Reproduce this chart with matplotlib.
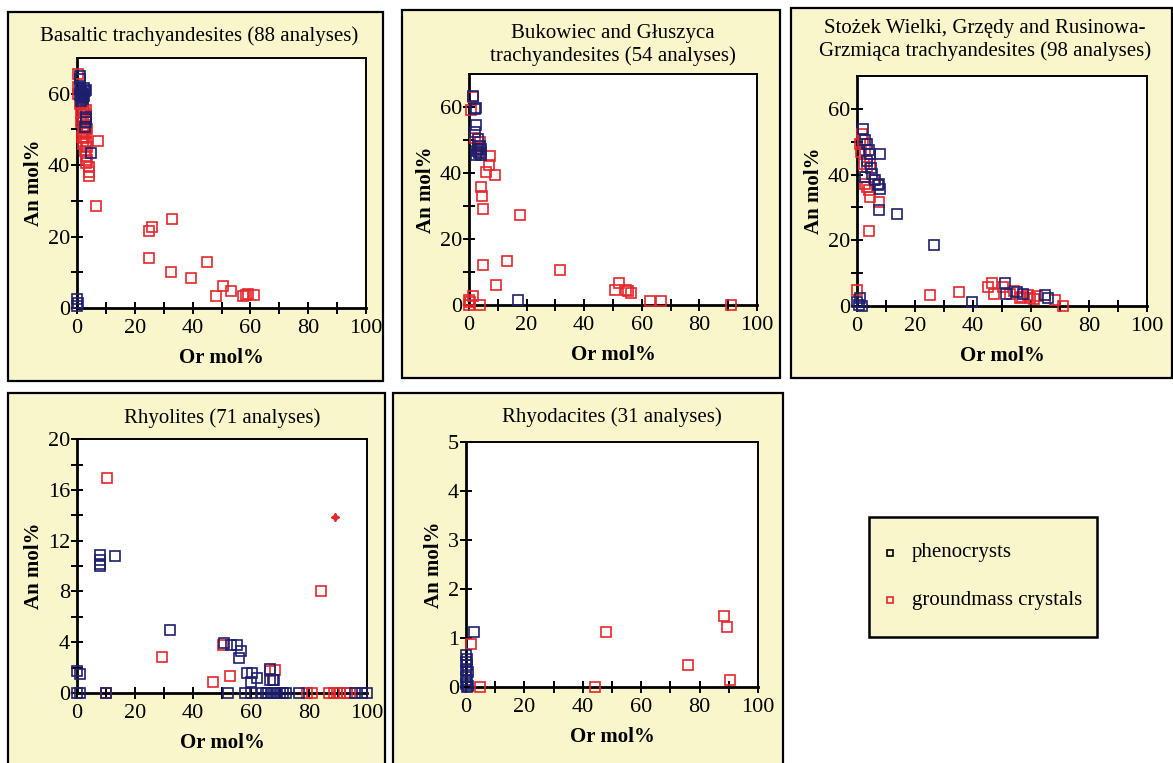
import numpy as np
import matplotlib
matplotlib.use("Agg")
import matplotlib.pyplot as plt
from matplotlib.patches import Rectangle

plt.rcParams['font.family'] = ['Liberation Serif', 'DejaVu Serif']

# Or / An (mol%) of feldspars, per rock group
bt_phen_or = [1, 1.2, 1, 1.5, 2, 2.5, 1.8, 2.2, 1.3, 2.8, 3, 1, 2.5, 1.6, 2.1,
              3, 3, 2.8, 3.2, 5, 0, 0, 0.3]
bt_phen_an = [65, 64, 61.5, 60.5, 60, 59.5, 59, 58.5, 58, 60.8, 61, 59.7, 61.5, 60.2, 59.2,
              53.5, 52, 50.8, 53, 43.3, 2.5, 0.5, 1.5]
bt_gm_or = [0.5, 0.3, 0.5, 1, 2, 3, 2.5, 1.5, 3, 2, 1.5, 2.5, 3.5, 2, 3, 1.8, 2.5, 3, 2,
            3.5, 2.8, 3, 3.5, 3.2, 4, 4, 4.2, 7.2, 6.7, 24.8, 26, 33, 24.9, 32.4, 39.6,
            44.9, 50.4, 53.4, 48.2, 57.4, 59, 61.1, 58.5]
bt_gm_an = [65.5, 62, 60, 57, 56, 55.5, 55, 54.5, 54, 53, 52, 51, 50, 49.5, 49, 48, 47.5,
            46.5, 46, 45, 44, 42.5, 41.5, 40.5, 39.5, 38.2, 37, 46.9, 28.5, 21.6, 22.6, 25,
            13.9, 10.2, 8.3, 12.9, 6.3, 4.9, 3.4, 3.4, 4, 3.7, 3.7]

bg_phen_or = [1.4, 2, 2.3, 2.5, 2, 3.1, 3.7, 2.8, 3.5, 4, 2.3, 3.1, 4.3, 17]
bg_phen_an = [63.3, 59.5, 59.7, 54.4, 52.4, 50.4, 48.3, 46.8, 46, 45.5, 45.5, 47.3, 47.3, 1.5]
bg_gm_or = [1.4, 0.8, 3.7, 4, 3, 2, 7.4, 6.9, 6, 9.1, 4, 4.6, 4.9, 17.6, 4.9, 13.2, 9.5,
            31.5, 50.6, 52, 54.6, 55.2, 56.2, 63, 66.8, 90.9, 0, 1.4, 0.5, 3.7, 0]
bg_gm_an = [63, 59, 49.3, 46, 48, 50.5, 45.1, 42.5, 40.4, 39.5, 35.8, 33, 29.2, 27.2, 12.2,
            13.4, 6.1, 10.5, 4.4, 6.8, 4.6, 4.1, 3.6, 1.3, 1.3, 0, 1.5, 2.7, 1, 0, 0]

sw_phen_or = [2.1, 2.9, 3.4, 4, 4.6, 8, 5.2, 6.3, 7.5, 7.8, 7.1, 7.5, 13.8, 26.6, 39.7,
              51, 51.4, 55, 57.3, 64.8, 65.9, 0, 0.6, 1.7, 1.1, 2.9, 3.6, 4.8]
sw_phen_an = [53.9, 50.4, 49.4, 47.4, 46.2, 46.2, 40.3, 38.3, 37.2, 35.7, 36.7, 29.1, 27.9,
              18.7, 1.3, 7.1, 3.8, 4.4, 3.8, 3.3, 2.3, 1.3, 0.3, 0, 2.3, 39.3, 44, 42]
sw_gm_or = [1.7, 1.1, 1.4, 2.3, 3.4, 4.6, 2.9, 4, 4.6, 7.5, 4.2, 5.7, 3.4, 2, 2.6, 0, 25,
            35, 45.3, 46.7, 47.2, 50.5, 52.8, 56.2, 59.6, 62, 68.2, 71.1, 59, 54, 57, 61]
sw_gm_an = [52.4, 49.4, 46.9, 43.3, 42.3, 43.1, 37.2, 35.2, 33.2, 31.7, 22.8, 38.3, 36.2,
            50.5, 47.5, 4.9, 3.5, 4.4, 5.9, 7.1, 3.8, 5.9, 3.8, 2.3, 2.5, 3, 1.8, 0, 3.3,
            4.6, 2.8, 2.2]

rh_phen_or = [0, 0.9, 0, 0.9, 8.1, 8.1, 8.1, 8.1, 13, 32, 50.8, 53, 55.3, 56.5, 56, 58.5,
              60.3, 60, 62.2, 66.6, 66.4, 68, 67.5, 52.2, 58, 60, 63.7, 65, 66, 67, 68,
              69, 70, 71, 72, 76.4, 96, 98.3, 100, 10.1]
rh_phen_an = [1.7, 1.5, 0, 0, 10.9, 10.5, 10.2, 10, 10.8, 5, 3.9, 3.75, 3.8, 3.3, 2.75,
              1.6, 1.6, 0.9, 1.2, 1.9, 1, 1, 1.05, 0, 0, 0, 0, 0, 0, 0, 0, 0, 0, 0, 0,
              0, 0, 0, 0, 0]
rh_gm_or = [10.4, 84.2, 29.4, 47, 52.8, 50.2, 68.3, 66.6, 10.1, 79.3, 81, 86.8, 88.5,
            89.6, 90.8, 93, 94.2]
rh_gm_an = [16.9, 8, 2.8, 0.9, 1.3, 3.75, 1.8, 1.7, 0, 0, 0, 0, 0, 0, 0, 0, 0]
rh_odd_or = [89]
rh_odd_an = [13.9]

rd_phen_or = [2.6, 0, 0.3, 0, 0.3, 0, 0.7, 0, 0.3, 0, 0.3, 0.7]
rd_phen_an = [1.12, 0.66, 0.58, 0.51, 0.44, 0.34, 0.31, 0.2, 0.14, 0.07, 0, 0.03]
rd_gm_or = [1.8, 4.9, 44.2, 47.9, 75.9, 88.4, 89.4, 90.5]
rd_gm_an = [0.88, 0, 0.01, 1.12, 0.44, 1.45, 1.22, 0.14]

W, H = 1173, 763
PALE = '#faf6cb'
BLUE = '#1d1f6e'
RED = '#e5262b'

fig = plt.figure(figsize=(W / 100, H / 100), dpi=100)
fig.patch.set_facecolor('white')


def px_box(l, t, r, b):
    return [l / W, 1 - b / H, (r - l) / W, (b - t) / H]


def panel_bg(l, t, r, b, lw=1.6):
    x, y, w, h = px_box(l, t, r, b)
    fig.patches.append(Rectangle((x, y), w, h, transform=fig.transFigure,
                                 facecolor=PALE, edgecolor='black', lw=lw, zorder=-10))


def panel(rect, ymax, ymajor, yminor, phen, gm):
    ax = fig.add_axes(px_box(*rect))
    ax.set_facecolor('white')
    ax.set_xlim(0, 100)
    ax.set_ylim(0, ymax)
    ax.set_xticks(np.arange(0, 101, 20))
    ax.set_xticks(np.arange(10, 100, 20), minor=True)
    ax.set_yticks(np.arange(0, ymax, ymajor))
    if yminor:
        ax.set_yticks(np.arange(yminor, ymax, ymajor), minor=True)
    ax.tick_params(which='both', direction='inout', length=8, width=1.4, labelsize=16,
                   top=False, right=False)
    ax.tick_params(axis='x', pad=4)
    ax.tick_params(axis='y', pad=1)
    for s in ['left', 'bottom']:
        ax.spines[s].set_linewidth(2)
    for s in ['top', 'right']:
        ax.spines[s].set_linewidth(1.4)
    ax.set_xlabel('Or mol%', fontsize=15, fontweight='bold', labelpad=7)
    ax.set_ylabel('An mol%', fontsize=15, fontweight='bold', labelpad=3)
    ax.plot(gm[0], gm[1], 's', ms=7, mfc='none', mec=RED, mew=1.2, clip_on=False, zorder=3)
    ax.plot(phen[0], phen[1], 's', ms=7, mfc='none', mec=BLUE, mew=1.2, clip_on=False, zorder=4)
    return ax


panel_bg(8, 12, 383, 381)
panel_bg(402, 10, 780, 378)
panel_bg(791, 8, 1172, 378)
panel_bg(8, 393, 385, 765)
panel_bg(393, 393, 783, 765)
panel_bg(869, 517, 1097, 637, lw=1.8)

panel((77, 58, 366, 308), 70, 20, 10, (bt_phen_or, bt_phen_an), (bt_gm_or, bt_gm_an))
panel((469, 74, 757, 305), 70, 20, 10, (bg_phen_or, bg_phen_an), (bg_gm_or, bg_gm_an))
panel((857, 76, 1147, 306), 70, 20, 10, (sw_phen_or, sw_phen_an), (sw_gm_or, sw_gm_an))
ax4 = panel((77, 439, 367, 693), 20.01, 4, 2, (rh_phen_or, rh_phen_an), (rh_gm_or, rh_gm_an))
ax4.plot(rh_odd_or, rh_odd_an, marker=(4, 1, 0), ms=6, color=RED, ls='none', zorder=5)
panel((466, 442, 758, 687), 5.001, 1, None, (rd_phen_or, rd_phen_an), (rd_gm_or, rd_gm_an))

tkw = dict(ha='center', va='center', fontsize=15)
fig.text(199 / W, 1 - 36 / H, 'Basaltic trachyandesites (88 analyses)', **tkw)
fig.text(613 / W, 1 - 45 / H, 'Bukowiec and Głuszyca\ntrachyandesites (54 analyses)',
         linespacing=1.25, **tkw)
fig.text(985 / W, 1 - 40 / H, 'Stożek Wielki, Grzędy and Rusinowa-\nGrzmiąca trachyandesites (98 analyses)',
         linespacing=1.2, **tkw)
fig.text(222 / W, 1 - 418 / H, 'Rhyolites (71 analyses)', **tkw)
fig.text(612 / W, 1 - 417 / H, 'Rhyodacites (31 analyses)', **tkw)

# legend entries
lx, ly, lw_, lh = px_box(869, 517, 1097, 637)
lax = fig.add_axes([lx, ly, lw_, lh])
lax.set_xlim(869, 1097)
lax.set_ylim(637, 517)
lax.axis('off')
lax.plot([890], [553], 's', ms=4.5, mfc='none', mec='black', mew=1.2)
lax.plot([890], [600], 's', ms=4.5, mfc='none', mec=RED, mew=1.2)
lax.text(912, 553, 'phenocrysts', va='center', ha='left', fontsize=15)
lax.text(912, 600, 'groundmass crystals', va='center', ha='left', fontsize=15)

fig.savefig('out.png', dpi=100)
